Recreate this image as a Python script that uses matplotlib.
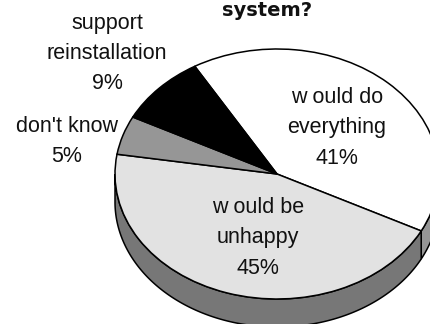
import numpy as np
import matplotlib
matplotlib.use('Agg')
import matplotlib.pyplot as plt

plt.rcParams['font.family'] = ['Liberation Sans', 'DejaVu Sans']

# survey answers, clockwise from the black/white boundary
values = [41, 45, 5, 9]
labels = ['w ould do\neverything\n41%', 'w ould be\nunhappy\n45%', "don't know\n5%", 'support\nreinstallation\n9%']
colors = ['#ffffff', '#e2e2e2', '#969696', '#000000']
side_colors = ['#969696', '#777777']
title = 'system?'

W, H = 430, 324
cx, cy, rx, ry = 277, 174, 162, 125
depth = 28.0 / ry
start = 120.5

fig = plt.figure(figsize=(W / 100, H / 100), dpi=100)
ax = fig.add_axes([(cx - rx) / W, 1 - (cy + ry) / H, 2 * rx / W, 2 * ry / H])

# the rim: only the front half of the ellipse shows
bounds = start - np.cumsum(values) * 3.6
rim = [(0, bounds[0], side_colors[0]), (bounds[0], -180, side_colors[1])]
for a0, a1, c in rim:
    t = np.radians(np.linspace(a0, a1, 200))
    xs = np.r_[np.cos(t), np.cos(t[::-1])]
    ys = np.r_[np.sin(t), np.sin(t[::-1]) - depth]
    ax.fill(xs, ys, facecolor=c, edgecolor='black', lw=1.1, clip_on=False, zorder=1)

wedges, _ = ax.pie(values, colors=colors, startangle=start, counterclock=False, radius=1,
                   wedgeprops=dict(edgecolor='black', lw=1.1, clip_on=False))
for w in wedges:
    w.set_zorder(2)
ax.set_aspect('auto')
ax.set_xlim(-1, 1)
ax.set_ylim(-1, 1)


def px_text(x, y, s, **kw):
    fig.text(x / W, 1 - y / H, s, ha='center', va='center', color='#111111', **kw)


label_pos = [(337, 128), (258, 238), (67, 141.5), (107, 53.5)]
for (x, y), s in zip(label_pos, labels):
    px_text(x, y, s, fontsize=15.5, linespacing=1.58, zorder=5)
px_text(267.5, 10, title, fontsize=14, fontweight='bold', family='DejaVu Sans', zorder=5)

fig.savefig('out.png', dpi=100)
